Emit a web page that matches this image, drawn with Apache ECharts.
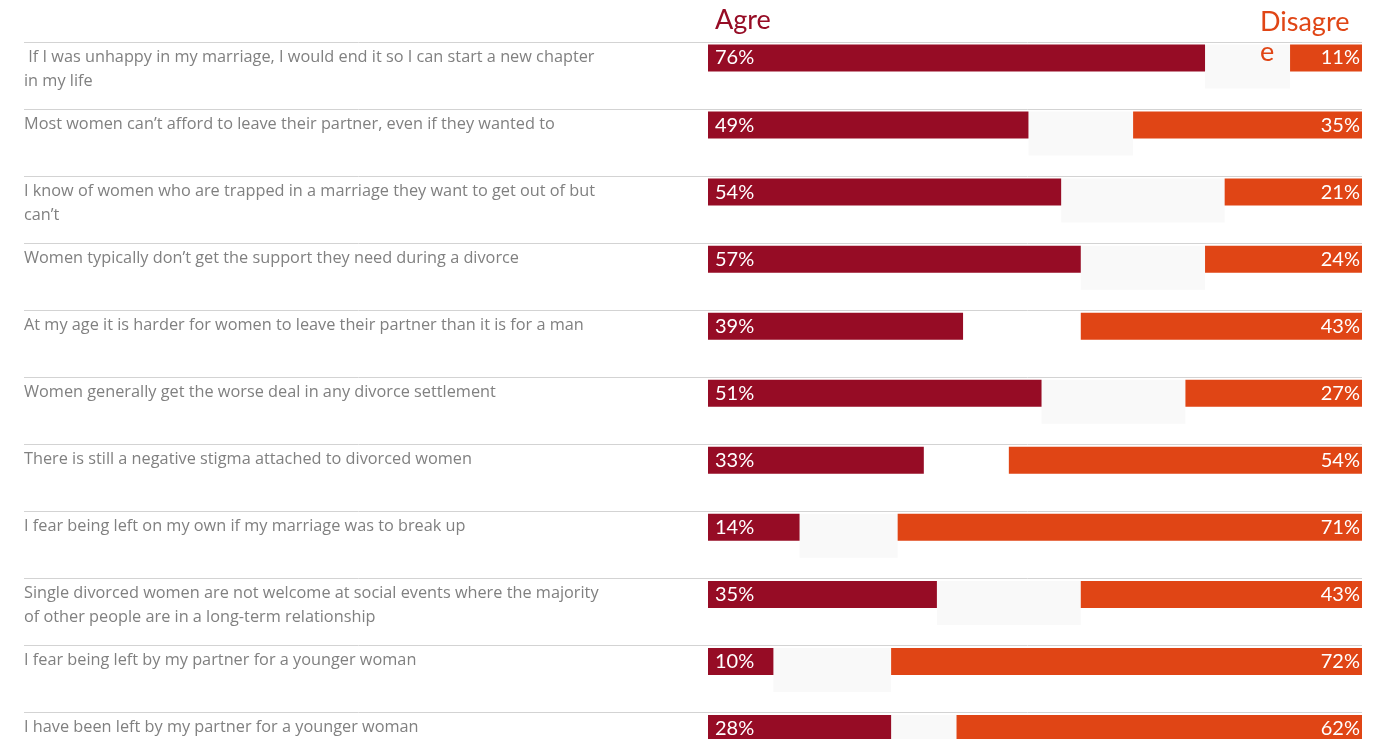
<!DOCTYPE html>
<html>
<head>
<meta charset="utf-8">
<script src="https://cdn.jsdelivr.net/npm/echarts@6/dist/echarts.min.js"></script>
<style>
html,body{margin:0;padding:0;background:#fff;overflow:hidden;}
#chart{width:1382px;height:800px;}
</style>
</head>
<body>
<div id="chart"></div>
<script>
var categories = [
  " If I was unhappy in my marriage, I would end it so I can start a new chapter\nin my life",
  "Most women can\u2019t afford to leave their partner, even if they wanted to",
  "I know of women who are trapped in a marriage they want to get out of but\ncan\u2019t",
  "Women typically don\u2019t get the support they need during a divorce",
  "At my age it is harder for women to leave their partner than it is for a man",
  "Women generally get the worse deal in any divorce settlement",
  "There is still a negative stigma attached to divorced women",
  "I fear being left on my own if my marriage was to break up",
  "Single divorced women are not welcome at social events where the majority\nof other people are in a long-term relationship",
  "I fear being left by my partner for a younger woman",
  "I have been left by my partner for a younger woman"
];
var agree    = [76, 49, 54, 57, 39, 51, 33, 14, 35, 10, 28];
var neutral  = [13, 16, 25, 19, null, 22, null, 15, 22, 18, 10];
var disagree = [11, 35, 21, 24, 43, 27, 54, 71, 43, 72, 62];
var headerAgree = "Agre";
var headerDisagree = "Disagre\ne";

var RED = '#960c25', ORANGE = '#e04515', GREY = '#f9f9f9';
var FONT = 'Lato, "Open Sans", sans-serif';
var LFONT = '"Open Sans", Lato, sans-serif';
var TOP = 42, BAND = 67.05, N = categories.length, H = BAND * N;

var chart = echarts.init(document.getElementById('chart'), null, {renderer: 'canvas'});
var hidden = {show: false};
var option = {
  animation: false,
  backgroundColor: '#ffffff',
  grid: [
    {left: 24, width: 1338, top: TOP, height: H},
    {left: 708, width: 654, top: TOP + 16 - BAND / 2, height: H},
    {left: 708, width: 654, top: TOP + 24.5 - BAND / 2, height: H}
  ],
  xAxis: [
    {gridIndex: 0, type: 'value', min: 0, max: 1, show: false},
    {gridIndex: 1, type: 'value', min: 0, max: 100, show: false},
    {gridIndex: 1, type: 'value', min: 0, max: 100, inverse: true, show: false},
    {gridIndex: 2, type: 'value', min: 0, max: 100, show: false}
  ],
  yAxis: [
    {gridIndex: 0, type: 'category', data: categories, inverse: true,
     axisLine: hidden, axisTick: hidden, axisLabel: hidden,
     splitLine: {show: true, lineStyle: {color: '#d3d3d3', width: 1}}},
    {gridIndex: 1, type: 'category', data: categories, inverse: true, show: false},
    {gridIndex: 2, type: 'category', data: categories, inverse: true, show: false}
  ],
  series: [
    {
      type: 'custom', xAxisIndex: 0, yAxisIndex: 0, silent: true,
      data: categories.map(function (c, i) { return [0, i]; }),
      renderItem: function (params, api) {
        var i = api.value(1);
        var p = api.coord([0, i]);
        var h = api.size([0, 1])[1];
        return {
          type: 'text',
          style: {
            text: categories[i], x: p[0], y: p[1] - h / 2 + 3,
            fill: '#808080', font: '16.3px ' + LFONT, lineHeight: 24,
            verticalAlign: 'top', align: 'left'
          }
        };
      }
    },
    {
      name: 'Agree', type: 'bar', xAxisIndex: 1, yAxisIndex: 1, data: agree,
      barWidth: 27, barGap: '-100%',
      itemStyle: {color: RED},
      label: {show: true, position: 'insideLeft', distance: 7, color: '#fff',
              fontFamily: FONT, fontSize: 20, formatter: '{c}%'}
    },
    {
      name: 'Disagree', type: 'bar', xAxisIndex: 2, yAxisIndex: 1, data: disagree,
      barWidth: 27, barGap: '-100%',
      itemStyle: {color: ORANGE},
      label: {show: true, position: 'insideRight', distance: 2, color: '#fff',
              fontFamily: FONT, fontSize: 20, formatter: '{c}%'}
    },
    {
      name: 'base', type: 'bar', xAxisIndex: 3, yAxisIndex: 2, data: agree,
      stack: 'n', barWidth: 44, silent: true,
      itemStyle: {color: 'rgba(0,0,0,0)'}
    },
    {
      name: 'Neutral', type: 'bar', xAxisIndex: 3, yAxisIndex: 2, data: neutral,
      stack: 'n', barWidth: 44, z: 1,
      itemStyle: {color: GREY}
    }
  ],
  graphic: [
    {type: 'text', left: 715, top: 7, z: 100,
     style: {text: headerAgree, fill: RED, font: '27px ' + FONT}},
    {type: 'text', left: 1260, top: 7, z: 100,
     style: {text: headerDisagree, fill: ORANGE, font: '27px ' + FONT, lineHeight: 30}}
  ]
};
chart.setOption(option);
</script>
</body>
</html>
